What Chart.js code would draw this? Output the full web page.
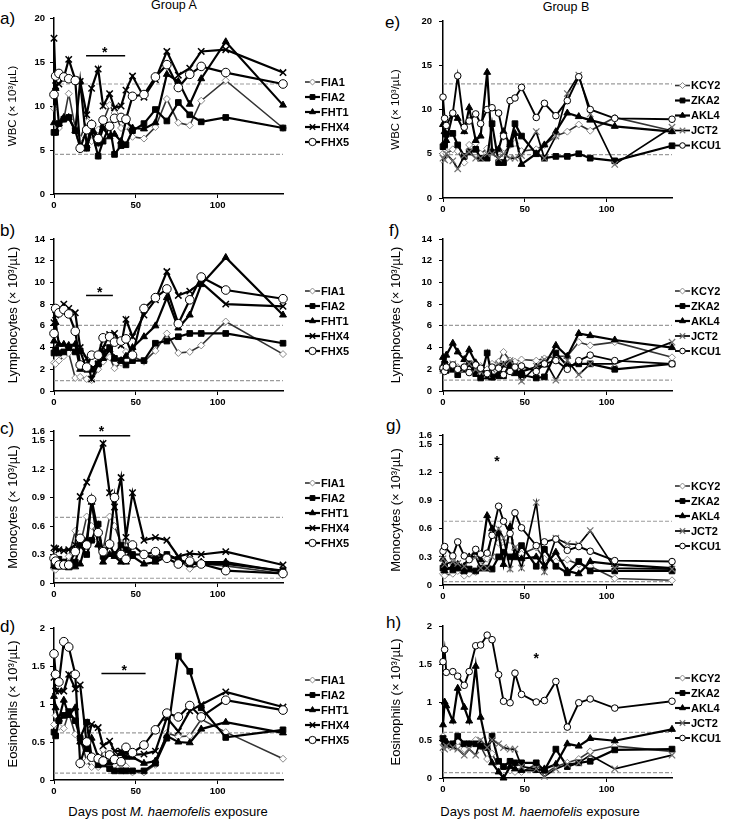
<!DOCTYPE html>
<html lang="en">
<head>
<meta charset="UTF-8">
<title>Haematology after M. haemofelis exposure</title>
<script src="https://cdn.jsdelivr.net/npm/chart.js"></script>
<style>
  body { margin: 0; background: #fff; font-family: "Liberation Sans", Arial, sans-serif; color: #000; }
  #fig { position: relative; width: 739px; height: 826px; overflow: hidden; }
  #fig canvas, .txt { position: absolute; }
  .txt { white-space: nowrap; }
  .pl { font-size: 17px; }
  .grp { font-size: 12.5px; transform: translateX(-50%); }
  .xt { font-size: 13px; transform: translateX(-50%); }
</style>
</head>
<body>
<div id="fig">
  <div class="txt grp" style="left:174px;top:-2px">Group A</div>
  <div class="txt grp" style="left:566px;top:0px">Group B</div>
  <div class="txt pl" style="left:0;top:9px">a)</div>
  <div class="txt pl" style="left:0;top:221px">b)</div>
  <div class="txt pl" style="left:0;top:419px">c)</div>
  <div class="txt pl" style="left:0;top:617px">d)</div>
  <div class="txt pl" style="left:385px;top:13px">e)</div>
  <div class="txt pl" style="left:389px;top:221px">f)</div>
  <div class="txt pl" style="left:386px;top:416px">g)</div>
  <div class="txt pl" style="left:386px;top:613px">h)</div>
  <div class="txt xt" style="left:168px;top:804px">Days post <i>M. haemofelis</i> exposure</div>
  <div class="txt xt" style="left:540px;top:804px">Days post <i>M. haemofelis</i> exposure</div>
</div>

<script>
// sampling days (days post exposure)
const daysA = [0, 1, 3, 6, 9, 13, 16, 20, 23, 27, 30, 34, 37, 41, 44, 48, 55, 62, 69, 76, 83, 90, 105, 140];
const daysB = [0, 1, 2, 6, 9, 13, 16, 20, 23, 27, 30, 34, 37, 41, 44, 48, 57, 62, 69, 76, 83, 90, 105, 140];

const catsA = ['FIA1', 'FIA2', 'FHT1', 'FHX4', 'FHX5'];
const catsB = ['KCY2', 'ZKA2', 'AKL4', 'JCT2', 'KCU1'];

// Group A, one row per cat (same order as catsA)
const wbcA = [
  [9.7, 8.0, 7.5, 8.5, 11.4, 7.5, 6.3, 8.3, 6.0, 7.3, 8.2, 10.1, 9.2, 7.5, 7.7, 6.5, 6.3, 7.6, 10.8, 8.1, 7.8, 10.6, 12.9, 7.5],
  [7.0, 7.0, 8.0, 8.5, 8.7, 7.2, 5.3, 5.2, 7.2, 4.3, 6.0, 7.8, 4.5, 5.5, 5.6, 7.2, 8.0, 9.6, 8.3, 10.4, 9.0, 8.2, 8.7, 7.5],
  [8.1, 12.0, 8.0, 8.7, 8.7, 7.2, 12.8, 5.5, 8.0, 5.7, 7.5, 6.5, 6.8, 6.0, 8.3, 7.5, 7.4, 8.1, 13.6, 12.8, 10.2, 13.1, 17.3, 10.1],
  [17.7, 12.3, 12.5, 13.2, 15.3, 13.0, 12.8, 9.0, 12.0, 14.2, 10.0, 11.4, 9.8, 10.0, 11.8, 13.4, 11.0, 13.0, 16.2, 13.5, 14.3, 16.2, 16.4, 13.8],
  [11.3, 13.4, 13.7, 13.3, 13.1, 12.9, 5.2, 7.3, 7.9, 6.3, 8.4, 7.7, 8.6, 8.7, 8.5, 11.1, 11.3, 13.3, 14.7, 12.1, 13.6, 14.5, 13.8, 12.5]
];
const lymA = [
  [2.6, 2.5, 2.8, 3.2, 3.5, 1.2, 1.3, 1.1, 1.0, 2.0, 2.7, 3.1, 2.1, 2.6, 3.6, 3.2, 2.7, 3.7, 5.3, 3.5, 3.6, 4.2, 6.4, 3.4],
  [3.5, 3.8, 3.5, 3.6, 4.0, 3.6, 3.7, 2.0, 2.0, 2.5, 3.5, 4.0, 3.0, 2.8, 2.4, 2.8, 2.8, 4.4, 4.6, 5.0, 5.3, 5.3, 5.3, 4.4],
  [4.6, 6.3, 4.3, 4.3, 4.2, 4.3, 2.0, 2.3, 2.0, 2.5, 3.0, 3.8, 3.0, 2.8, 3.2, 4.0, 5.0, 6.0, 8.6, 5.8, 7.0, 9.8, 12.3, 7.0],
  [6.3, 7.0, 7.5, 8.0, 7.6, 7.2, 4.0, 3.0, 1.1, 2.5, 4.0, 5.2, 5.3, 4.2, 6.6, 5.0, 7.0, 8.4, 11.0, 8.8, 9.2, 10.0, 8.0, 7.8],
  [5.3, 7.6, 7.2, 7.5, 7.1, 5.5, 2.4, 2.2, 3.3, 3.3, 4.9, 5.0, 4.5, 4.6, 4.8, 3.3, 7.6, 8.6, 9.4, 6.2, 8.4, 10.5, 9.3, 8.5]
];
const monA = [
  [0.15, 0.14, 0.20, 0.22, 0.28, 0.55, 0.40, 0.70, 0.60, 0.45, 0.35, 0.70, 0.60, 0.42, 0.45, 0.30, 0.30, 0.28, 0.30, 0.25, 0.15, 0.20, 0.18, 0.10],
  [0.20, 0.18, 0.25, 0.22, 0.20, 0.22, 0.40, 0.30, 0.45, 0.62, 0.28, 0.40, 0.30, 0.40, 0.35, 0.30, 0.30, 0.25, 0.30, 0.25, 0.20, 0.20, 0.20, 0.13],
  [0.18, 0.17, 0.17, 0.17, 0.16, 0.17, 0.20, 0.45, 0.85, 0.40, 0.22, 0.30, 0.28, 0.22, 0.22, 0.28, 0.20, 0.22, 0.28, 0.25, 0.20, 0.22, 0.22, 0.12],
  [0.37, 0.36, 0.35, 0.34, 0.35, 0.40, 0.91, 1.06, null, null, 1.47, 0.95, 0.80, 1.11, 0.48, 0.95, 0.45, 0.48, 0.45, 0.28, 0.31, 0.30, 0.33, 0.19],
  [0.26, 0.23, 0.19, 0.19, 0.19, 0.33, 0.47, 0.40, 0.88, 0.53, 0.33, 0.41, 0.90, 0.30, 0.25, 0.40, 0.30, 0.33, 0.26, 0.20, 0.23, 0.20, 0.13, 0.10]
];
const eosA = [
  [0.73, 0.85, 0.70, 0.68, 0.88, 0.60, 0.55, 0.25, 0.17, 0.17, 0.40, 0.30, 0.20, 0.20, 0.18, 0.10, 0.10, 0.20, 0.62, 0.57, 0.58, 0.80, 0.63, 0.28],
  [0.63, 0.58, 0.78, 0.85, 0.90, 0.78, 0.55, 0.76, 0.30, 0.20, 0.21, 0.15, 0.12, 0.12, 0.12, 0.12, 0.12, 0.22, 0.55, 1.63, 1.43, 0.95, 0.56, 0.66],
  [1.10, 0.95, 0.80, 1.05, 0.85, 0.95, 0.50, 0.40, 0.55, 0.30, 0.27, 0.23, 0.30, 0.35, 0.30, 0.30, 0.22, 0.25, 0.58, 0.50, 0.49, 0.67, 0.76, 0.62],
  [1.35, 1.17, 1.17, 1.17, 1.39, 1.20, 1.25, 0.47, 0.73, 0.69, 0.45, 0.51, 0.38, 0.38, 0.36, 0.33, 0.34, 0.38, 0.82, 0.64, 0.91, 0.99, 1.16, 0.96],
  [1.66, 1.39, 1.29, 1.82, 1.75, 1.39, 0.22, 0.50, 0.30, 0.28, 0.25, 0.33, 0.27, 0.24, 0.43, 0.36, 0.46, 0.66, 0.88, 0.83, 0.98, 0.83, 1.05, 0.92]
];

// Group B, one row per cat (same order as catsB)
const wbcB = [
  [5.0, 5.5, 5.0, 5.5, 5.3, 4.0, 6.0, 6.2, 5.0, 5.6, 5.2, 5.5, 5.0, 6.0, 6.2, 5.3, 5.5, 6.0, 7.0, 7.5, 8.3, 7.6, 9.1, 7.6],
  [5.8, 6.0, 7.2, 7.3, 6.0, 4.7, 5.2, 5.5, 4.5, 4.5, 8.4, 4.0, 4.0, 6.2, 8.4, 7.0, 5.0, 4.5, 4.7, 4.7, 5.0, 4.5, 4.2, 5.9],
  [8.3, 7.5, 6.5, 9.5, 9.0, 7.5, 10.2, 6.5, 7.0, 14.2, 5.3, 5.5, 7.5, 6.0, 7.3, 3.8, 5.0, 6.0, 7.5, 9.6, 9.2, 8.8, 8.1, 7.5],
  [4.5, 4.3, 5.0, 4.2, 3.3, 4.8, 5.2, 4.5, 4.5, 5.0, 5.0, 4.5, 5.0, 4.5, 4.5, 4.8, 7.5, 4.5, 7.0, 11.8, 13.9, 9.5, 3.8, 8.0],
  [11.4, 9.0, 8.2, 9.6, 13.8, 8.0, 8.7, 9.5, 8.4, 10.0, 10.2, 9.6, 7.0, 11.0, 11.3, 12.5, 9.1, 10.7, 9.3, 11.0, 13.7, 10.0, 9.0, 8.9]
];
const lymB = [
  [2.3, 2.0, 2.5, 2.3, 2.2, 2.3, 2.1, 2.5, 2.3, 2.0, 2.5, 2.7, 3.6, 2.8, 2.7, 2.9, 2.8, 3.0, 3.2, 3.2, 4.5, 4.2, 4.5, 3.1],
  [2.0, 2.5, 1.9, 2.0, 1.5, 2.0, 2.5, 1.6, 1.2, 3.5, 1.3, 1.4, 1.4, 2.5, 2.0, 1.5, 1.2, 1.3, 3.5, 2.3, 2.5, 2.5, 2.0, 2.5],
  [3.1, 2.5, 3.3, 4.4, 3.6, 2.9, 3.8, 2.6, 2.0, 1.3, 1.2, 1.6, 2.4, 2.0, 1.6, 1.8, 2.2, 2.4, 4.2, 3.2, 5.3, 5.1, 4.7, 4.0],
  [1.9, 2.0, 2.2, 2.5, 2.0, 2.0, 2.5, 2.0, 1.8, 1.5, 2.0, 2.5, 2.5, 2.8, 2.3, 0.9, 2.3, 2.9, 1.0, 2.8, 1.5, 2.5, 2.5, 4.5],
  [2.1, 1.8, 2.2, 2.4, 2.0, 2.2, 1.7, 2.4, 2.1, 1.6, 2.2, 2.1, 1.5, 1.8, 2.2, 2.3, 1.8, 2.5, 2.8, 2.0, 2.8, 3.3, 2.8, 2.5]
];
const monB = [
  [0.12, 0.10, null, 0.12, 0.15, 0.10, 0.12, 0.14, 0.20, 0.28, 0.55, 0.45, 0.40, 0.48, 0.38, 0.33, 0.40, 0.28, 0.25, 0.27, 0.22, 0.20, 0.07, 0.05],
  [0.18, 0.20, null, 0.16, 0.18, 0.15, 0.17, 0.15, 0.18, 0.18, 0.17, 0.30, 0.35, 0.30, 0.30, 0.42, 0.20, 0.38, 0.20, 0.13, 0.25, 0.15, 0.15, 0.15],
  [0.28, 0.15, null, 0.20, 0.22, 0.20, 0.30, 0.35, 0.27, 0.74, 0.60, 0.55, 0.22, 0.62, 0.30, 0.28, 0.30, 0.20, 0.35, 0.15, 0.12, 0.25, 0.22, 0.18],
  [0.28, 0.22, null, 0.25, 0.23, 0.20, 0.30, 0.30, 0.18, 0.18, 0.30, 0.60, 0.50, 0.17, 0.40, 0.18, 0.88, 0.14, 0.50, 0.44, 0.43, 0.58, 0.18, 0.17],
  [0.36, 0.41, null, 0.31, 0.46, 0.31, 0.27, 0.38, 0.33, 0.34, 0.53, 0.84, 0.68, 0.55, 0.77, 0.61, 0.42, 0.46, 0.49, 0.37, 0.41, 0.36, 0.26, 0.25]
];
const eosB = [
  [0.55, 0.45, 0.45, 0.42, 0.48, 0.38, 0.45, 0.50, 0.42, 0.25, 0.32, 0.15, 0.15, 0.10, 0.08, 0.08, 0.18, 0.05, 0.15, 0.20, 0.25, 0.35, 0.42, 0.35],
  [0.52, 0.48, 0.45, 0.45, 0.55, 0.45, 0.45, 0.45, 0.42, 0.40, 0.55, 0.22, 0.15, 0.22, 0.20, 0.20, 0.20, 0.10, 0.38, 0.15, 0.20, 0.22, 0.37, 0.38],
  [0.70, 1.00, 0.95, 0.75, 1.18, 0.93, 0.75, 1.47, 0.80, 0.40, 0.20, 0.08, 0.00, 0.15, 0.12, 0.10, 0.10, 0.12, 0.18, 0.45, 0.42, 0.52, 0.49, 0.64],
  [0.40, 0.38, 0.42, 0.40, 0.38, 0.30, 0.38, 0.30, 0.50, 0.40, 0.50, 0.45, 0.40, 0.38, 0.38, 0.15, 0.12, 0.02, 0.12, 0.18, 0.20, 0.30, 0.12, 0.30],
  [1.53, 1.69, 1.39, 1.40, 1.34, 1.22, 1.40, 1.74, 1.75, 1.88, 1.82, 1.36, 1.01, 0.99, 1.38, 1.10, 1.00, 1.02, 1.27, 0.67, 0.99, 1.04, 0.92, 1.01]
];

// reference interval (upper, lower)
const refWbcA = [12.5, 4.5], refWbcB = [12.9, 4.9];
const refLymA = [6.05, 0.95], refLymB = [6.05, 1.0];
const refMonA = [0.69, 0.05], refMonB = [0.68, 0.035];
const refEosA = [0.62, 0.09], refEosB = [0.6, 0.07];

// significance marks: bar = [from day, to day, level], star = [day, level]
const sigWbcA = { bar: [19.6, 43.5, 15.7], star: [31, 16.3] };
const sigLymA = { bar: [19.6, 36, 8.8], star: [28, 9.3] };
const sigMonA = { bar: [15.4, 46.6, 1.55], star: [29, 1.62] };
const sigEosA = { bar: [29, 56, 1.4], star: [43, 1.47] };
const sigMonB = { star: [33, 1.34] };
const sigEosB = { star: [57, 1.6] };

const FONT = "'Liberation Sans', Arial, sans-serif";

function look(grp, i) {
  const styles = [
    { pointStyle: 'rectRot', pointRadius: 3.5, pointBackgroundColor: '#fff', pointBorderColor: '#8a8a8a', pointBorderWidth: 1, borderColor: '#333', borderWidth: 1.6 },
    { pointStyle: 'rect', pointRadius: 4, pointBackgroundColor: '#000', pointBorderColor: '#000', pointBorderWidth: 1, borderColor: '#000', borderWidth: 2.2 },
    { pointStyle: 'triangle', pointRadius: 4, pointBackgroundColor: '#000', pointBorderColor: '#000', pointBorderWidth: 1, borderColor: '#000', borderWidth: 2.2 },
    { pointStyle: 'crossRot', pointRadius: 4.5, pointBackgroundColor: '#000', pointBorderColor: '#000', pointBorderWidth: 1.5, borderColor: '#000', borderWidth: 2.2 },
    { pointStyle: 'circle', pointRadius: 4.3, pointBackgroundColor: '#fff', pointBorderColor: '#000', pointBorderWidth: 1, borderColor: '#000', borderWidth: 2.2 }
  ];
  const s = Object.assign({}, styles[i]);
  if (grp === 'B' && i === 3) { s.pointBorderColor = '#707070'; s.borderWidth = 1.7; s.pointBorderWidth = 1.2; }
  if (grp === 'B' && i === 4) { s.pointRadius = 3.3; s.borderWidth = 1.9; }
  return s;
}

function mark(ctx, s, x, y) {
  const r = s.pointRadius * 0.85;
  ctx.save();
  ctx.lineWidth = s.pointBorderWidth;
  ctx.strokeStyle = s.pointBorderColor;
  ctx.fillStyle = s.pointBackgroundColor;
  ctx.beginPath();
  if (s.pointStyle === 'rectRot') {
    ctx.moveTo(x, y - r); ctx.lineTo(x + r, y); ctx.lineTo(x, y + r); ctx.lineTo(x - r, y); ctx.closePath();
    ctx.fill(); ctx.stroke();
  } else if (s.pointStyle === 'rect') {
    const h = r * Math.SQRT1_2;
    ctx.rect(x - h, y - h, 2 * h, 2 * h); ctx.fill(); ctx.stroke();
  } else if (s.pointStyle === 'triangle') {
    ctx.moveTo(x, y - r); ctx.lineTo(x + r * 0.87, y + r * 0.5); ctx.lineTo(x - r * 0.87, y + r * 0.5); ctx.closePath();
    ctx.fill(); ctx.stroke();
  } else if (s.pointStyle === 'crossRot') {
    const h = r * Math.SQRT1_2;
    ctx.moveTo(x - h, y - h); ctx.lineTo(x + h, y + h); ctx.moveTo(x - h, y + h); ctx.lineTo(x + h, y - h); ctx.stroke();
  } else {
    ctx.arc(x, y, r, 0, Math.PI * 2); ctx.fill(); ctx.stroke();
  }
  ctx.restore();
}

// legend to the right of the plot: short line with the marker in it
const sideKey = {
  id: 'sideKey',
  afterDraw(chart, args, o) {
    const { ctx, chartArea } = chart;
    const sets = chart.data.datasets.filter(d => !d.isRef);
    const x0 = chartArea.right + o.dx;
    const yc = (chartArea.top + chartArea.bottom) / 2 + 6;
    sets.forEach((d, i) => {
      const y = yc + (i - (sets.length - 1) / 2) * 15;
      ctx.save();
      ctx.strokeStyle = d.borderColor;
      ctx.lineWidth = d.borderWidth;
      ctx.beginPath(); ctx.moveTo(x0, y); ctx.lineTo(x0 + 15, y); ctx.stroke();
      mark(ctx, d, x0 + 7.5, y);
      ctx.fillStyle = '#000';
      ctx.font = 'bold 11px ' + FONT;
      ctx.textBaseline = 'middle';
      ctx.fillText(d.label, x0 + 16, y + 0.5);
      ctx.restore();
    });
  }
};

// asterisk and bar over the significant period
const sigMark = {
  id: 'sigMark',
  afterDatasetsDraw(chart, args, o) {
    if (!o || !o.star) return;
    const { ctx, scales: { x, y } } = chart;
    ctx.save();
    ctx.strokeStyle = '#000';
    ctx.fillStyle = '#000';
    ctx.lineWidth = 1.5;
    if (o.bar) {
      const py = y.getPixelForValue(o.bar[2]);
      ctx.beginPath();
      ctx.moveTo(x.getPixelForValue(o.bar[0]), py);
      ctx.lineTo(x.getPixelForValue(o.bar[1]), py);
      ctx.stroke();
    }
    ctx.font = 'bold 14px ' + FONT;
    ctx.textAlign = 'center';
    ctx.textBaseline = 'middle';
    ctx.fillText('*', x.getPixelForValue(o.star[0]), y.getPixelForValue(o.star[1]) + 3);
    ctx.restore();
  }
};

const fig = document.getElementById('fig');

function panel(geo, grp, days, names, rows, yMax, step, refs, sig, yTitle, titleSize) {
  const [cl, ct, cw, ch] = geo.cv;
  const [pl, pt, pr] = geo.plot;
  const canvas = document.createElement('canvas');
  canvas.width = cw; canvas.height = ch;
  canvas.style.left = cl + 'px'; canvas.style.top = ct + 'px';
  canvas.style.width = cw + 'px'; canvas.style.height = ch + 'px';
  fig.appendChild(canvas);

  const datasets = rows.map((vals, i) => Object.assign({
    label: names[i],
    data: days.map((d, k) => ({ x: d, y: vals[k] })),
    spanGaps: true, clip: false, tension: 0, order: 5 - i
  }, look(grp, i)));
  refs.forEach(v => datasets.push({
    label: '', isRef: true, data: [{ x: 0, y: v }, { x: 140, y: v }],
    borderColor: '#9c9c9c', borderWidth: 1.2, borderDash: [4, 2], pointRadius: 0, order: 10
  }));

  const axisCommon = {
    grid: { drawOnChartArea: false, drawTicks: true, tickLength: 4, color: '#000', lineWidth: 1 },
    border: { display: true, color: '#000', width: 1.5 }
  };

  new Chart(canvas, {
    type: 'line',
    data: { datasets },
    options: {
      responsive: false, animation: false, events: [],
      layout: { padding: { left: 0, top: pt - ct, right: cl + cw - pr, bottom: 0 } },
      plugins: {
        legend: { display: false }, tooltip: { enabled: false },
        sideKey: { dx: grp === 'A' ? 22 : 3 },
        sigMark: sig
      },
      scales: {
        x: Object.assign({
          type: 'linear', min: 0, max: 140,
          afterFit: s => { s.height = 22; },
          ticks: { stepSize: 50, includeBounds: false, color: '#000', padding: 2, maxRotation: 0,
                   font: { family: FONT, size: 9.5, weight: 'bold' } }
        }, axisCommon),
        y: Object.assign({
          type: 'linear', min: 0, max: yMax, bounds: 'data',
          afterFit: s => { s.width = pl - cl; },
          ticks: { stepSize: step, includeBounds: false, color: '#000', padding: grp === 'A' ? 5 : 7,
                   font: { family: FONT, size: 9.5, weight: 'bold' },
                   callback: v => String(+Number(v).toFixed(2)) },
          title: { display: true, text: yTitle, color: '#000',
                   font: { family: FONT, size: titleSize },
                   padding: { top: grp === 'A' ? 6 : 9, bottom: 0 } }
        }, axisCommon)
      }
    },
    plugins: [sideKey, sigMark]
  });
}

const L = (top, h, plotTop) => ({ cv: [0, top, 370, h], plot: [54, plotTop, 283] });
const R = (top, h, plotTop) => ({ cv: [380, top, 359, h], plot: [443, plotTop, 672] });

panel(L(4, 212, 18), 'A', daysA, catsA, wbcA, 20, 5, refWbcA, sigWbcA, 'WBC (× 10³/µL)', 11.5);
panel(L(225, 188, 239), 'A', daysA, catsA, lymA, 14, 2, refLymA, sigLymA, 'Lymphocytes (× 10³/µL)', 13);
panel(L(417, 188, 431), 'A', daysA, catsA, monA, 1.6, 0.3, refMonA, sigMonA, 'Monocytes (× 10³/µL)', 13);
panel(L(614, 188, 628), 'A', daysA, catsA, eosA, 2, 0.5, refEosA, sigEosA, 'Eosinophils (× 10³/µL)', 13);

panel(R(7, 213, 21), 'B', daysB, catsB, wbcB, 20, 5, refWbcB, null, 'WBC (× 10³/µL)', 11.5);
panel(R(225, 188, 239), 'B', daysB, catsB, lymB, 14, 2, refLymB, null, 'Lymphocytes (× 10³/µL)', 13);
panel(R(420, 187, 435), 'B', daysB, catsB, monB, 1.6, 0.3, refMonB, sigMonB, 'Monocytes (× 10³/µL)', 13);
panel(R(612, 188, 626), 'B', daysB, catsB, eosB, 2, 0.5, refEosB, sigEosB, 'Eosinophils (× 10³/µL)', 13);
</script>
</body>
</html>
